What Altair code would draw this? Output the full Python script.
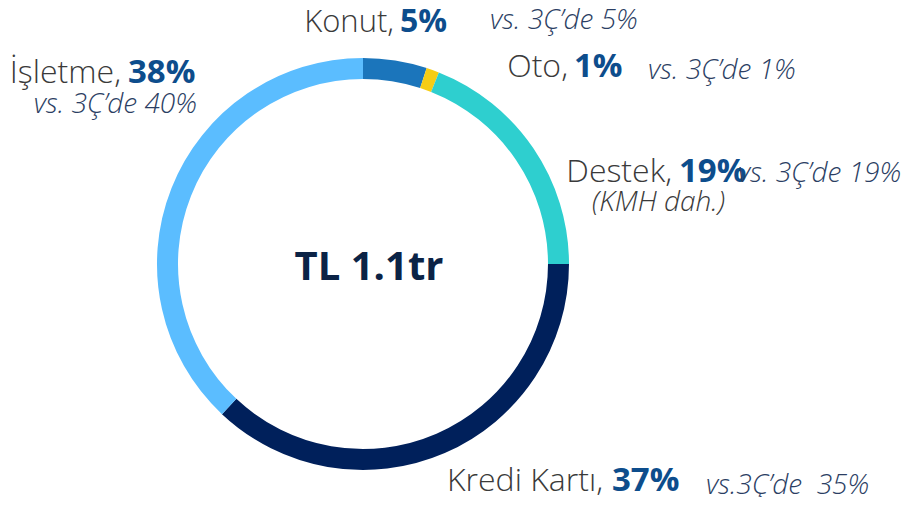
import altair as alt
import pandas as pd

# ---- data ----
categories = ["Konut", "Oto", "Destek", "Kredi Kartı", "İşletme"]
shares = [5, 1, 19, 37, 38]
prev_shares = [5, 1, 19, 35, 40]
colors = ["#1b75bb", "#f6cd15", "#2ecfcf", "#00205b", "#5bbdff"]
center_label = "TL 1.1tr"
note_destek = "(KMH dah.)"

df = pd.DataFrame({"cat": categories, "share": shares, "order": list(range(len(categories)))})

W, H = 897, 489
CX, CY = 355, 256  # plot coords of ring centre

FONT = "Open Sans"
NAME_COLOR = "#3a3a3a"
PCT_COLOR = "#0d4d8c"
VS_COLOR = "#2b3e63"
NS, PS, VS = 32, 33, 28

ring = alt.Chart(df).mark_arc(outerRadius=206, innerRadius=185, stroke=None).encode(
    theta=alt.Theta("share:Q", stack=True),
    order=alt.Order("order:Q"),
    color=alt.Color("cat:N", scale=alt.Scale(domain=categories, range=colors), legend=None),
    x=alt.value(CX),
    y=alt.value(CY),
)

base = alt.Chart(pd.DataFrame({"d": [0]}))


def txt(text, x, y, size, color, align="left", weight="normal", style="normal", font=FONT):
    return base.mark_text(
        text=text, align=align, baseline="alphabetic", font=font, fontSize=size,
        fontWeight=weight, fontStyle=style, color=color,
    ).encode(x=alt.value(x - 8), y=alt.value(y - 8))


def vs(i):
    return f"vs. 3Ç’de {prev_shares[i]}%"


layers = [ring]
# Konut
layers += [txt(categories[0] + ",", 394, 32, NS - 1, NAME_COLOR, "right", 300),
           txt(f"{shares[0]}%", 400, 32, PS - 1, PCT_COLOR, "left", "bold"),
           txt(vs(0), 490, 29, VS, VS_COLOR, "left", 300, "italic")]
# Oto
layers += [txt(categories[1] + ",", 568, 77, NS, NAME_COLOR, "right", 300),
           txt(f"{shares[1]}%", 574, 77, PS, PCT_COLOR, "left", "bold"),
           txt(vs(1), 648, 79, VS, VS_COLOR, "left", 300, "italic")]
# Destek
layers += [txt(categories[2] + ",", 672, 182, NS, NAME_COLOR, "right", 300),
           txt(f"{shares[2]}%", 679, 182, PS, PCT_COLOR, "left", "bold"),
           txt(vs(2), 738, 182, VS, VS_COLOR, "left", 300, "italic"),
           txt(note_destek, 592, 211, VS, NAME_COLOR, "left", 300, "italic")]
# Kredi Kartı
layers += [txt(categories[3] + ",", 603, 491, NS, NAME_COLOR, "right", 300),
           txt(f"{shares[3]}%", 612, 491, PS, PCT_COLOR, "left", "bold"),
           txt(f"vs.3Ç’de\u00a0\u00a0{prev_shares[3]}%", 706, 494, VS, VS_COLOR, "left", 300, "italic")]
# İşletme
layers += [txt(categories[4] + ",", 121, 83, NS, NAME_COLOR, "right", 300),
           txt(f"{shares[4]}%", 128, 83, PS, PCT_COLOR, "left", "bold"),
           txt(vs(4), 197, 113, VS, VS_COLOR, "right", 300, "italic")]
# centre
layers += [txt(center_label, 369, 280, 40, "#0b2346", "center", "bold", "Lato")]

chart = alt.layer(*layers).properties(
    width=W, height=H, padding=0, autosize=alt.AutoSizeParams(type="none")
).configure_view(stroke=None)

chart.save("out.html", embed_options={"renderer": "svg", "actions": False})
